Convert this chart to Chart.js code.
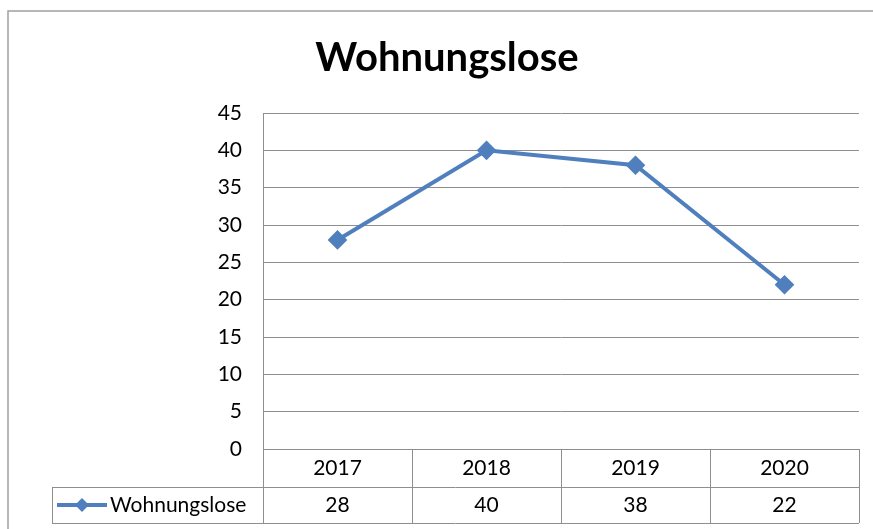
<!DOCTYPE html>
<html>
<head>
<meta charset="utf-8">
<script src="https://cdn.jsdelivr.net/npm/chart.js@4/dist/chart.umd.min.js"></script>
<style>
  html, body { margin: 0; padding: 0; background: #fff; }
  #wrap { width: 873px; height: 529px; position: relative; }
</style>
</head>
<body>
<div id="wrap"><canvas id="grafico"></canvas></div>
<script>
const titulo = 'Wohnungslose';
const jahre = ['2017', '2018', '2019', '2020'];
const wohnungslose = [28, 40, 38, 22];
const serieName = 'Wohnungslose';

const blau = '#4f7fbd';
const gitter = '#8e8e8e';
const schrift = 'Lato, "Open Sans", sans-serif';

// Rahmen, Titel und Datentabelle unter der x-Achse
const tabellePlugin = {
    id: 'tabelle',
    afterDraw(chart) {
        const ctx = chart.ctx;
        const x = chart.scales.x;
        const area = chart.chartArea;
        const halb = (x.getPixelForValue(1) - x.getPixelForValue(0)) / 2;
        const zeile1 = area.bottom + 38;
        const zeile2 = zeile1 + 36;
        const legendeLinks = 52;

        ctx.save();
        // äußerer Rahmen
        ctx.strokeStyle = '#a0a0a0';
        ctx.lineWidth = 1.5;
        ctx.strokeRect(8, 11, chart.width + 20, chart.height + 20);

        // Titel
        ctx.fillStyle = '#000';
        ctx.font = 'bold 40px ' + schrift;
        ctx.textAlign = 'center';
        ctx.textBaseline = 'middle';
        ctx.fillText(titulo, 447, 58);

        // Tabellenlinien
        ctx.strokeStyle = gitter;
        ctx.lineWidth = 1;
        ctx.beginPath();
        ctx.moveTo(legendeLinks, Math.round(zeile1) + 0.5);
        ctx.lineTo(area.right, Math.round(zeile1) + 0.5);
        ctx.moveTo(legendeLinks, Math.round(zeile2) + 0.5);
        ctx.lineTo(area.right, Math.round(zeile2) + 0.5);
        ctx.moveTo(legendeLinks + 0.5, zeile1);
        ctx.lineTo(legendeLinks + 0.5, zeile2);
        for (let i = 0; i <= jahre.length; i++) {
            const px = Math.round(x.getPixelForValue(i) - halb) + 0.5;
            ctx.moveTo(px, area.bottom);
            ctx.lineTo(px, zeile2);
        }
        ctx.stroke();

        // Werte
        ctx.font = '21px ' + schrift;
        ctx.fillStyle = '#000';
        const mitte2 = (zeile1 + zeile2) / 2;
        wohnungslose.forEach((wert, i) => {
            ctx.fillText(String(wert), x.getPixelForValue(i), mitte2);
        });

        // Legendenschlüssel
        ctx.strokeStyle = blau;
        ctx.lineWidth = 4;
        ctx.beginPath();
        ctx.moveTo(57, mitte2);
        ctx.lineTo(107, mitte2);
        ctx.stroke();
        ctx.fillStyle = blau;
        ctx.beginPath();
        ctx.moveTo(82, mitte2 - 7);
        ctx.lineTo(89, mitte2);
        ctx.lineTo(82, mitte2 + 7);
        ctx.lineTo(75, mitte2);
        ctx.closePath();
        ctx.fill();
        ctx.fillStyle = '#000';
        ctx.textAlign = 'left';
        ctx.fillText(serieName, 110, mitte2);
        ctx.restore();
    }
};

new Chart(document.getElementById('grafico'), {
    type: 'line',
    data: {
        labels: jahre,
        datasets: [{
            label: serieName,
            data: wohnungslose,
            borderColor: blau,
            backgroundColor: blau,
            borderWidth: 4,
            pointStyle: 'rectRot',
            pointRadius: 7,
            pointHoverRadius: 7,
            tension: 0
        }]
    },
    options: {
        responsive: true,
        maintainAspectRatio: false,
        animation: false,
        layout: { padding: { left: 203, right: 14, top: 113, bottom: 0 } },
        plugins: {
            legend: { display: false },
            title: { display: false },
            tooltip: { enabled: false }
        },
        scales: {
            x: {
                offset: true,
                grid: { display: false, drawTicks: false },
                border: { display: false },
                ticks: { color: '#000', font: { family: schrift, size: 21 }, padding: 7 },
                afterFit(scale) { scale.height = 80; }
            },
            y: {
                min: 0,
                max: 45,
                ticks: { stepSize: 5, color: '#000', font: { family: schrift, size: 21 }, padding: 21 },
                grid: { color: gitter, drawTicks: false },
                border: { display: true, color: gitter },
                afterFit(scale) { scale.width = 60; }
            }
        }
    },
    plugins: [tabellePlugin]
});
</script>
</body>
</html>
